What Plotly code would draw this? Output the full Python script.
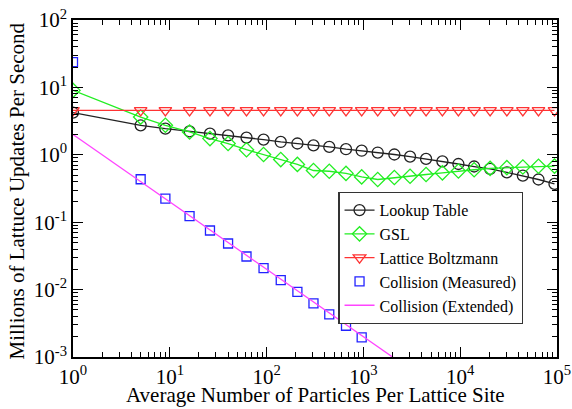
import plotly.graph_objects as go

# ---- data ----
particles = [1, 5, 9, 16, 26, 40, 62, 93, 140, 208, 305, 444, 661, 960, 1406,
             2088, 3034, 4440, 6546, 9580, 13930, 20370, 30340, 44380, 64380, 94190]

lookup_table = [4.22, 2.74, 2.44, 2.23, 2.06, 1.94, 1.80, 1.68, 1.55, 1.47, 1.38,
                1.31, 1.21, 1.15, 1.08, 1.01, 0.94, 0.87, 0.80, 0.73, 0.67, 0.62,
                0.55, 0.49, 0.43, 0.37]

gsl = [9.03, 3.63, 2.74, 2.18, 1.74, 1.47, 1.19, 1.01, 0.85, 0.72, 0.585, 0.57,
       0.53, 0.47, 0.43, 0.46, 0.48, 0.51, 0.54, 0.575, 0.60, 0.63, 0.645, 0.66,
       0.675, 0.68]

lattice_boltzmann = [4.56] * 26

collision_measured_x = [1, 5, 9, 16, 26, 40, 62, 93, 140, 208, 305, 444, 661, 960]
collision_measured = [23.7, 0.434, 0.224, 0.123, 0.0753, 0.0483, 0.0310, 0.0208,
                      0.0138, 0.00928, 0.00625, 0.00430, 0.00291, 0.00196]

collision_extended_x = [1, 10, 100, 1000, 10000]
collision_extended = [2.0, 0.2, 0.02, 0.002, 0.0002]

x_tick_vals = [1, 10, 100, 1000, 10000, 100000]
x_tick_text = ["10<sup>0</sup>", "10<sup>1</sup>", "10<sup>2</sup>",
               "10<sup>3</sup>", "10<sup>4</sup>", "10<sup>5</sup>"]
y_tick_vals = [0.001, 0.01, 0.1, 1, 10, 100]
y_tick_text = ["10<sup>-3</sup>", "10<sup>-2</sup>", "10<sup>-1</sup>",
               "10<sup>0</sup>", "10<sup>1</sup>", "10<sup>2</sup>"]

x_minor = [m * 10 ** e for e in range(0, 5) for m in range(2, 10)]
y_minor = [m * 10.0 ** e for e in range(-3, 2) for m in range(2, 10)]

FONT = "Liberation Serif"

fig = go.Figure()
fig.add_trace(go.Scatter(
    x=particles, y=lookup_table, name="Lookup Table", mode="lines+markers",
    line=dict(color="#222222", width=1.3),
    marker=dict(symbol="circle-open", size=11, color="#222222", line=dict(width=1.3))))
fig.add_trace(go.Scatter(
    x=particles, y=gsl, name="GSL", mode="lines+markers",
    line=dict(color="#22ee22", width=1.3),
    marker=dict(symbol="diamond-open", size=11, color="#22ee22", line=dict(width=1.3))))
fig.add_trace(go.Scatter(
    x=particles, y=lattice_boltzmann, name="Lattice Boltzmann", mode="lines+markers",
    line=dict(color="#ff3333", width=1.3),
    marker=dict(symbol="triangle-down-open", size=11, color="#ff3333", line=dict(width=1.3))))
fig.add_trace(go.Scatter(
    x=collision_measured_x, y=collision_measured, name="Collision (Measured)",
    mode="markers",
    marker=dict(symbol="square-open", size=9, color="#2222ff", line=dict(width=1.3))))
fig.add_trace(go.Scatter(
    x=collision_extended_x, y=collision_extended, name="Collision (Extended)",
    mode="lines", line=dict(color="#ff44ff", width=1.3)))

axis_common = dict(
    type="log", showgrid=False, zeroline=False, automargin=False,
    showline=True, linecolor="black", linewidth=1.5, mirror="ticks",
    ticks="inside", ticklen=10, tickwidth=1.3, tickcolor="black",
    tickfont=dict(family=FONT, size=21, color="black"),
    tickmode="array",
)

fig.update_xaxes(
    **axis_common, range=[0, 5], tickvals=x_tick_vals, ticktext=x_tick_text,
    minor=dict(ticks="inside", ticklen=5, tickwidth=1.1, tickcolor="black",
               tickmode="array", tickvals=x_minor, showgrid=False),
)
fig.update_yaxes(
    **axis_common, range=[-3, 2], tickvals=y_tick_vals, ticktext=y_tick_text,
    minor=dict(ticks="inside", ticklen=5, tickwidth=1.1, tickcolor="black",
               tickmode="array", tickvals=y_minor, showgrid=False),
)

fig.update_layout(
    width=572, height=409,
    margin=dict(l=73, r=15, t=20, b=52, autoexpand=False),
    paper_bgcolor="white", plot_bgcolor="white",
    font=dict(family=FONT, color="black"),
    legend=dict(
        x=0.548, y=0.49, xanchor="left", yanchor="top",
        bgcolor="white", bordercolor="#333333", borderwidth=1.3,
        font=dict(family=FONT, size=16, color="black"),
        tracegroupgap=0, itemwidth=30,
    ),
    annotations=[
        dict(text="Average Number of Particles Per Lattice Site",
             xref="paper", yref="paper", x=0.5, y=-0.112,
             xanchor="center", yanchor="middle", showarrow=False,
             font=dict(family=FONT, size=21, color="black")),
        dict(text="Millions of Lattuce Updates Per Second",
             xref="paper", yref="paper", x=-0.1165, y=0.493, textangle=-90,
             xanchor="center", yanchor="middle", showarrow=False,
             font=dict(family=FONT, size=21, color="black")),
    ],
)

fig.write_html("out.html", config={"displayModeBar": False},
               post_script="document.body.style.margin='0';")
